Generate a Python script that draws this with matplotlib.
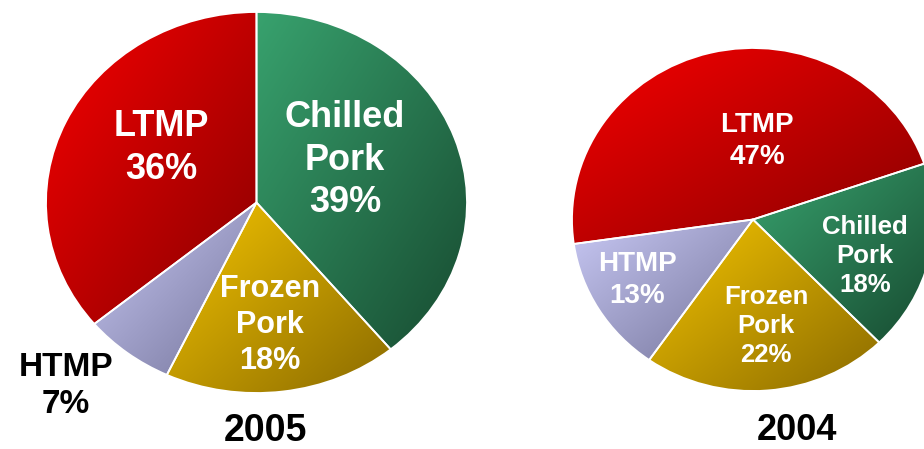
import numpy as np
import matplotlib
matplotlib.use('Agg')
import matplotlib.pyplot as plt
from matplotlib.colors import LinearSegmentedColormap

W, H = 924, 449

# data
categories = ['Chilled\nPork', 'Frozen\nPork', 'HTMP', 'LTMP']
share_2005 = [39, 18, 7, 36]
share_2004 = [18, 22, 13, 47]

# (light, dark) per category
shades = {
    'Chilled\nPork': ('#38a26e', '#174a30'),
    'Frozen\nPork': ('#f4c400', '#8a6a00'),
    'HTMP': ('#c8c8f4', '#74749a'),
    'LTMP': ('#f80000', '#880000'),
}

plt.rcParams['font.family'] = ['Liberation Sans', 'DejaVu Sans']
fig = plt.figure(figsize=(W / 100, H / 100), dpi=100, facecolor='white')


def pie_axes(cx, cy, rx, ry):
    ax = fig.add_axes([(cx - rx) / W, 1 - (cy + ry) / H, 2 * rx / W, 2 * ry / H])
    return ax


def gradient_pie(ax, values, startangle):
    wedges, _ = ax.pie(values, startangle=startangle, counterclock=False,
                       radius=1.0, wedgeprops=dict(edgecolor='white', linewidth=1.3))
    for w, cat in zip(wedges, categories):
        v = w.get_path().vertices
        x0, x1 = v[:, 0].min(), v[:, 0].max()
        y0, y1 = v[:, 1].min(), v[:, 1].max()
        gx, gy = np.meshgrid(np.linspace(0, 1, 200), np.linspace(0, 1, 200))
        t = (gx + gy) / 2  # light top-left, dark bottom-right
        cmap = LinearSegmentedColormap.from_list(cat, shades[cat])
        im = ax.imshow(t, cmap=cmap, vmin=0, vmax=1, extent=[x0, x1, y0, y1],
                       origin='upper', interpolation='bilinear', zorder=1)
        im.set_clip_path(w)
        w.set_facecolor('none')
        w.set_zorder(2)
    ax.set_xlim(-1, 1)
    ax.set_ylim(-1, 1)
    ax.set_aspect('auto')
    ax.axis('off')


ax1 = pie_axes(256.5, 202.5, 210.5, 190.5)
gradient_pie(ax1, share_2005, 90)

ax2 = pie_axes(753, 219.5, 181, 171.5)
gradient_pie(ax2, share_2004, 19)

# overlay for labels in pixel coordinates
top = fig.add_axes([0, 0, 1, 1])
top.set_xlim(0, W)
top.set_ylim(H, 0)
top.axis('off')
top.patch.set_alpha(0)

lab = dict(ha='center', va='center', fontweight='bold', linespacing=1.28)

top.text(161, 148, f'LTMP\n{share_2005[3]}%', color='white', fontsize=26, **lab)
top.text(345, 160, f'Chilled\nPork\n{share_2005[0]}%', color='white', fontsize=26, **lab)
top.text(270, 325, f'Frozen\nPork\n{share_2005[1]}%', color='white', fontsize=22, **lab)
top.text(66, 386, f'HTMP\n{share_2005[2]}%', color='black', fontsize=24, **lab)
top.text(265, 431, '2005', color='black', fontsize=27, fontweight='bold',
         ha='center', va='center')

top.text(757, 141, f'LTMP\n{share_2004[3]}%', color='white', fontsize=20, **lab)
top.text(865, 256, f'Chilled\nPork\n{share_2004[0]}%', color='white', fontsize=18.5, **lab)
top.text(637, 280, f'HTMP\n{share_2004[2]}%', color='white', fontsize=20, **lab)
top.text(766, 326, f'Frozen\nPork\n{share_2004[1]}%', color='white', fontsize=18.5, **lab)
top.text(797, 431, '2004', color='black', fontsize=26, fontweight='bold',
         ha='center', va='center')

fig.savefig('out.png', dpi=100, facecolor='white')
